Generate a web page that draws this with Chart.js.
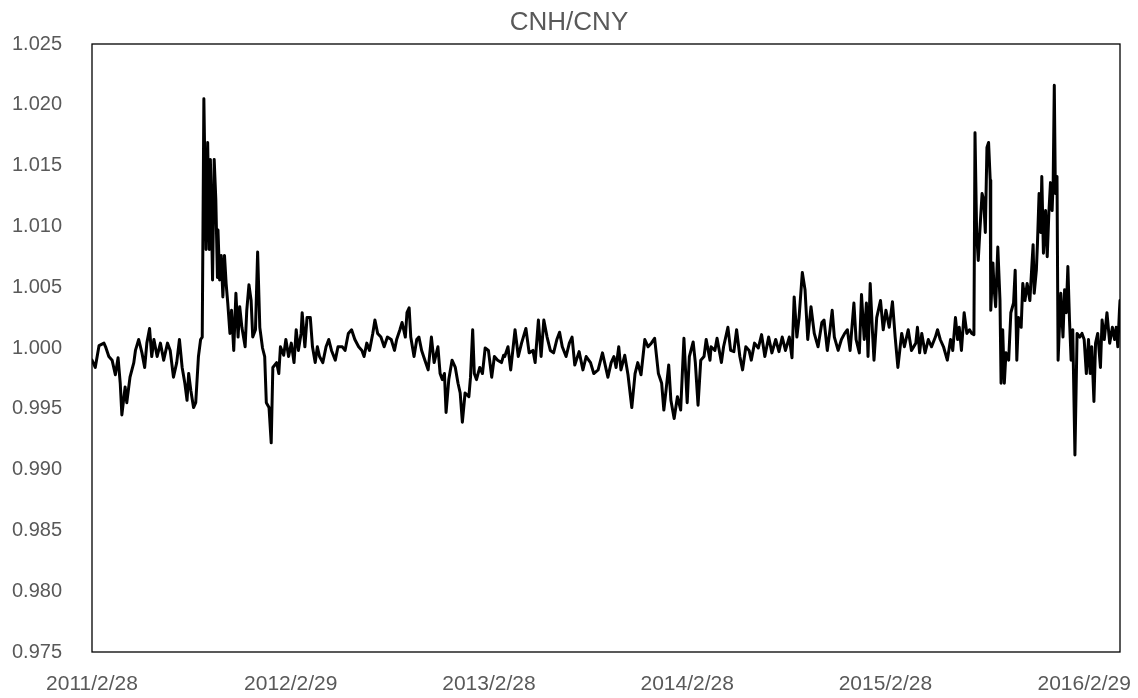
<!DOCTYPE html>
<html>
<head>
<meta charset="utf-8">
<title>CNH/CNY</title>
<script src="https://cdn.jsdelivr.net/npm/chart.js@4.4.1/dist/chart.umd.min.js"></script>
<style>
  html, body { margin: 0; padding: 0; background: #fff; }
  #wrap { width: 1138px; height: 698px; }
</style>
</head>
<body>
<div id="wrap"><canvas id="lineChart" width="1138" height="698"></canvas></div>
<script>
// CNH/CNY ratio
// x = days since 2011/2/28
const chartTitle = 'CNH/CNY';
const tickDays = [0, 366, 731, 1096, 1461, 1827];
const tickLabels = ['2011/2/28', '2012/2/29', '2013/2/28', '2014/2/28', '2015/2/28', '2016/2/29'];
const yMin = 0.975, yMax = 1.025, yStep = 0.005;
const lastDay = 1893;

const days = [
  0, 6, 13, 22, 25, 31, 37, 43, 48, 52, 55, 61, 64, 70, 77, 80, 86, 92, 97, 101,
  106, 110, 114, 120, 126, 132, 139, 144, 150, 156, 161, 166, 171, 175, 178, 182, 187, 191, 196, 200,
  203, 206, 210, 213, 216, 218, 222, 225, 228, 231, 232, 235, 238, 241, 244, 247, 250, 254, 257, 261,
  265, 269, 272, 276, 282, 285, 289, 293, 296, 301, 305, 309, 314, 318, 321, 326, 330, 333, 340, 344,
  347, 353, 357, 362, 367, 372, 376,
  380, 385, 387, 392, 396, 402, 406, 411, 415, 419, 425, 431, 436, 441, 448, 453, 461, 466, 472, 478,
  484, 491, 497, 501, 506, 511, 517, 521, 526, 532, 538, 544, 551, 557, 561, 567, 571, 577, 580, 584,
  587, 593, 598, 602, 607, 613, 619, 625, 630, 637, 641, 645, 649, 652, 657, 663, 669, 674, 678, 682,
  687, 694, 697, 701, 704, 708, 714, 719, 724, 730, 736, 741, 747, 754, 758,
  760, 766, 771, 779, 785, 791, 799, 805, 812, 816, 822, 827, 832, 838, 844, 850, 856, 861, 866, 873,
  879, 884, 889, 897, 904, 910, 918, 924, 932, 940, 944, 950, 956, 961, 965, 970, 974, 981, 987, 994,
  1000, 1005, 1011, 1018, 1024, 1030, 1036, 1043, 1049, 1053, 1057, 1062, 1066, 1072, 1078, 1084, 1090, 1096, 1100, 1107,
  1111, 1116, 1121, 1127, 1131, 1138,
  1140, 1147, 1151, 1159, 1163, 1171, 1176, 1182, 1187, 1193, 1198, 1204, 1210, 1214, 1220, 1227, 1233, 1239, 1246, 1252,
  1259, 1265, 1271, 1277, 1284, 1289, 1293, 1298, 1302, 1308, 1313, 1318, 1324, 1330, 1337, 1344, 1348, 1354, 1359, 1363,
  1367, 1374, 1380, 1386, 1391, 1396, 1403, 1407, 1413, 1417, 1422, 1426, 1429, 1433, 1437, 1440, 1445, 1452, 1457, 1462,
  1468, 1474, 1479, 1484, 1491, 1496, 1503, 1509, 1517,
  1520, 1524, 1528, 1534, 1540, 1546, 1553, 1557, 1562, 1568, 1575, 1581, 1585, 1590, 1594, 1597, 1601, 1606, 1611, 1616,
  1620, 1624, 1626, 1629, 1632, 1635, 1639, 1642, 1645, 1648, 1651, 1654, 1655, 1659, 1661, 1664, 1668, 1672, 1674, 1677,
  1680, 1683, 1688, 1692, 1697, 1700, 1703, 1706, 1711, 1714, 1718, 1722, 1727, 1731, 1733, 1735, 1739, 1741, 1744, 1747,
  1749, 1752, 1756, 1759, 1762, 1765, 1768, 1770, 1772, 1774, 1777, 1779, 1784, 1788, 1791, 1794, 1797, 1800, 1803, 1806,
  1810, 1814, 1819, 1823, 1827, 1831, 1835, 1838, 1841, 1845, 1848, 1852, 1857, 1860, 1864, 1869, 1874, 1879, 1883, 1886,
  1889, 1892, 1893
];

const ratio = [
  0.9990, 0.9984, 1.0002, 1.0004, 1.0001, 0.9993, 0.9990, 0.9978, 0.9992, 0.9971, 0.9945, 0.9968, 0.9955, 0.9976, 0.9988, 0.9998, 1.0007, 0.9996, 0.9984, 1.0004,
  1.0016, 0.9993, 1.0007, 0.9993, 1.0004, 0.9990, 1.0004, 0.9998, 0.9976, 0.9988, 1.0007, 0.9984, 0.9971, 0.9957, 0.9979, 0.9965, 0.9951, 0.9955, 0.9993, 1.0007,
  1.0009, 1.0205, 1.0081, 1.0169, 1.0081, 1.0155, 1.0056, 1.0155, 1.0122, 1.0058, 1.0097, 1.0056, 1.0076, 1.0042, 1.0076, 1.0053, 1.0037, 1.0012, 1.0031, 0.9998,
  1.0045, 1.0009, 1.0034, 1.0017, 1.0001, 1.0031, 1.0052, 1.0039, 1.0009, 1.0015, 1.0079, 1.0017, 1.0000, 0.9993, 0.9955, 0.9951, 0.9922, 0.9984, 0.9988, 0.9979,
  1.0001, 0.9994, 1.0007, 0.9993, 1.0004, 0.9988, 1.0015,
  0.9998, 1.0012, 1.0029, 1.0001, 1.0025, 1.0025, 1.0001, 0.9988, 1.0001, 0.9993, 0.9988, 1.0001, 1.0007, 0.9998, 0.9990, 1.0001, 1.0001, 0.9998, 1.0012, 1.0015,
  1.0007, 1.0001, 0.9998, 0.9993, 1.0004, 0.9998, 1.0012, 1.0023, 1.0012, 1.0009, 1.0001, 1.0009, 1.0007, 0.9998, 1.0007, 1.0015, 1.0021, 1.0009, 1.0029, 1.0033,
  1.0009, 0.9993, 1.0007, 1.0009, 0.9998, 0.9990, 0.9982, 1.0009, 0.9988, 1.0001, 0.9979, 0.9974, 0.9979, 0.9947, 0.9974, 0.9990, 0.9984, 0.9971, 0.9963, 0.9939,
  0.9963, 0.9960, 0.9976, 1.0015, 0.9979, 0.9974, 0.9984, 0.9979, 1.0000, 0.9998, 0.9976, 0.9993, 0.9990, 0.9988, 0.9994,
  0.9993, 1.0001, 0.9982, 1.0015, 0.9993, 1.0004, 1.0016, 0.9996, 0.9998, 0.9988, 1.0023, 0.9993, 1.0023, 1.0009, 0.9998, 0.9996, 1.0007, 1.0013, 1.0001, 0.9993,
  1.0004, 1.0009, 0.9986, 0.9997, 0.9982, 0.9993, 0.9988, 0.9979, 0.9982, 0.9996, 0.9988, 0.9976, 0.9988, 0.9993, 0.9984, 1.0001, 0.9982, 0.9994, 0.9978, 0.9951,
  0.9979, 0.9988, 0.9978, 1.0007, 1.0001, 1.0004, 1.0008, 0.9979, 0.9971, 0.9949, 0.9965, 0.9986, 0.9957, 0.9942, 0.9960, 0.9949, 1.0008, 0.9955, 0.9993, 1.0005,
  0.9988, 0.9953, 0.9990, 0.9993, 1.0007, 0.9990,
  1.0001, 0.9998, 1.0008, 0.9988, 1.0001, 1.0017, 0.9998, 0.9997, 1.0015, 0.9993, 0.9982, 1.0001, 0.9998, 0.9990, 1.0004, 1.0000, 1.0011, 0.9993, 1.0009, 0.9996,
  1.0007, 0.9997, 1.0009, 0.9998, 1.0009, 0.9992, 1.0042, 1.0009, 1.0025, 1.0062, 1.0048, 1.0007, 1.0034, 1.0012, 1.0001, 1.0021, 1.0023, 0.9998, 1.0015, 1.0031,
  1.0009, 0.9998, 1.0007, 1.0012, 1.0015, 0.9998, 1.0037, 1.0007, 0.9996, 1.0044, 1.0007, 1.0037, 0.9993, 1.0053, 1.0015, 0.9990, 1.0025, 1.0039, 1.0015, 1.0031,
  1.0017, 1.0038, 1.0009, 0.9984, 1.0012, 1.0001, 1.0015, 0.9998, 1.0004,
  1.0017, 0.9996, 1.0012, 0.9996, 1.0007, 1.0001, 1.0009, 1.0015, 1.0007, 1.0001, 0.9990, 1.0007, 0.9998, 1.0025, 1.0007, 1.0017, 0.9998, 1.0029, 1.0012, 1.0015,
  1.0012, 1.0011, 1.0177, 1.0095, 1.0072, 1.0097, 1.0127, 1.0122, 1.0095, 1.0165, 1.0169, 1.0138, 1.0031, 1.0070, 1.0050, 1.0034, 1.0083, 1.0039, 0.9971, 1.0015,
  0.9971, 0.9996, 0.9990, 1.0029, 1.0037, 1.0064, 0.9990, 1.0025, 1.0017, 1.0053, 1.0039, 1.0053, 1.0039, 1.0070, 1.0085, 1.0045, 1.0064, 1.0086, 1.0127, 1.0095,
  1.0141, 1.0078, 1.0113, 1.0075, 1.0111, 1.0136, 1.0113, 1.0138, 1.0216, 1.0127, 1.0141, 0.9990, 1.0045, 1.0009, 1.0048, 1.0029, 1.0067, 1.0023, 0.9990, 1.0015,
  0.9912, 1.0012, 1.0009, 1.0012, 1.0007, 0.9979, 1.0007, 0.9979, 1.0001, 0.9956, 1.0004, 1.0012, 0.9984, 1.0023, 1.0007, 1.0029, 1.0004, 1.0017, 1.0007, 1.0017,
  1.0001, 1.0031, 1.0039
];

const fontFamily = "'Liberation Sans', Arial, sans-serif";
const textColor = '#595959';

// black frame round the plot area
const plotBorder = {
    id: 'plotBorder',
    afterDatasetsDraw(chart) {
        const a = chart.chartArea;
        const ctx = chart.ctx;
        ctx.save();
        ctx.strokeStyle = '#000';
        ctx.lineWidth = 1.3;
        ctx.strokeRect(a.left, a.top, a.right - a.left, a.bottom - a.top);
        ctx.restore();
    }
};

const points = days.map((d, i) => ({ x: d, y: ratio[i] }));

const ctx = document.getElementById('lineChart').getContext('2d');
const chart = new Chart(ctx, {
    type: 'line',
    data: {
        datasets: [{
            label: chartTitle,
            data: points,
            borderColor: '#000',
            backgroundColor: '#000',
            borderWidth: 3,
            pointRadius: 0,
            tension: 0,
            fill: false,
            borderJoinStyle: 'round',
            borderCapStyle: 'round'
        }]
    },
    options: {
        responsive: false,
        animation: false,
        layout: { padding: 0 },
        plugins: {
            legend: { display: false },
            tooltip: { enabled: false },
            title: {
                display: true,
                text: chartTitle,
                color: textColor,
                font: { family: fontFamily, size: 26, weight: 'normal' },
                padding: { top: 7, bottom: 5.8 }
            }
        },
        scales: {
            x: {
                type: 'linear',
                min: 0,
                max: lastDay,
                grid: { display: false, drawTicks: false },
                border: { display: false },
                afterBuildTicks: (scale) => {
                    scale.ticks = tickDays.map(v => ({ value: v }));
                },
                afterFit: (scale) => {
                    scale.height = 46;
                    // plot area ends 18px before the right edge, as in the picture
                    scale.paddingLeft = 0;
                    scale.paddingRight = 18;
                },
                ticks: {
                    autoSkip: false,
                    maxRotation: 0,
                    padding: 20,
                    color: textColor,
                    font: { family: fontFamily, size: 21 },
                    callback: (v) => tickLabels[tickDays.indexOf(v)]
                }
            },
            y: {
                min: yMin,
                max: yMax,
                grid: { display: false, drawTicks: false },
                border: { display: false },
                afterFit: (scale) => {
                    scale.width = 92;
                    scale.paddingTop = 0;
                    scale.paddingBottom = 0;
                },
                ticks: {
                    stepSize: yStep,
                    padding: 30,
                    color: textColor,
                    font: { family: fontFamily, size: 20 },
                    callback: (v) => Number(v).toFixed(3)
                }
            }
        }
    },
    plugins: [plotBorder]
});
</script>
</body>
</html>
